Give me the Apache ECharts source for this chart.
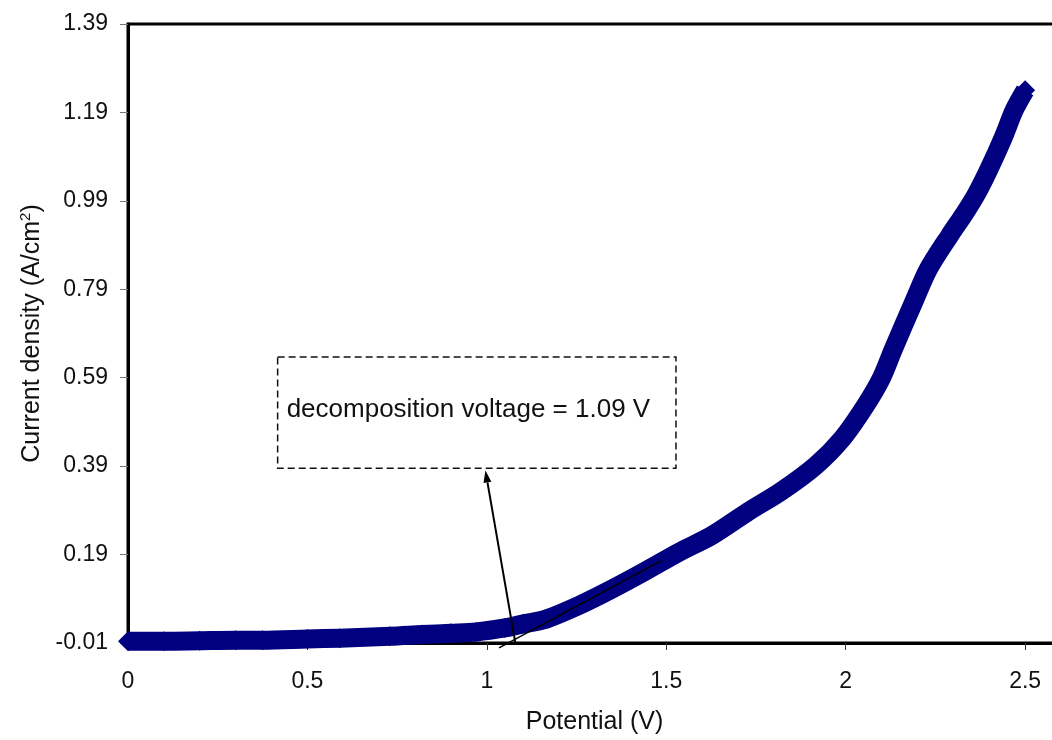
<!DOCTYPE html>
<html>
<head>
<meta charset="utf-8">
<script src="https://cdn.jsdelivr.net/npm/echarts@6/dist/echarts.min.js"></script>
<style>
  html, body { margin: 0; padding: 0; background: #fff; overflow: hidden; }
  /* plot runs a little past the right edge, like the source picture */
  #main { width: 1064px; height: 740px; }
</style>
</head>
<body>
<div id="main"></div>
<script>
// potential (V) and current density (A/cm2)
const potential = [0, 0.1, 0.2, 0.3, 0.375, 0.5, 0.59, 0.73, 0.82, 0.9, 0.97, 1.05, 1.1, 1.165,
  1.257, 1.349, 1.443, 1.535, 1.627, 1.73, 1.82, 1.916, 1.99, 2.055, 2.1, 2.133, 2.19, 2.23,
  2.29, 2.33, 2.364, 2.4, 2.44, 2.47, 2.5];
const current = [-0.006, -0.006, -0.005, -0.004, -0.004, -0.001, 0.001, 0.005, 0.009, 0.012, 0.015,
  0.024, 0.033, 0.044, 0.075, 0.112, 0.153, 0.195, 0.233, 0.288, 0.333, 0.391, 0.452, 0.527,
  0.59, 0.655, 0.762, 0.835, 0.912, 0.96, 1.005, 1.063, 1.135, 1.196, 1.24];
const xTicks = [0, 0.5, 1, 1.5, 2, 2.5];
const yTicks = [-0.01, 0.19, 0.39, 0.59, 0.79, 0.99, 1.19, 1.39];
// tangent line and arrow used for the onset estimate
const tangent = [[1.034, -0.021], [1.488, 0.177]];
const arrow = [[1.079, -0.008], [0.996, 0.38]];
const noteBox = [[0.417, 0.637], [1.527, 0.385]];
const noteText = 'decomposition voltage = 1.09 V';

const font = 'Liberation Sans, Arial, sans-serif';
const chart = echarts.init(document.getElementById('main'));

chart.setOption({
  animation: false,
  textStyle: { fontFamily: font },
  grid: {
    left: 128, top: 24, bottom: 95, right: 0,
    show: true, borderColor: '#000', borderWidth: 3, backgroundColor: '#fff'
  },
  xAxis: {
    type: 'value',
    min: 0, max: 2.6, interval: 0.5,
    name: 'Potential (V)',
    nameLocation: 'middle', nameGap: 67,
    nameTextStyle: { fontSize: 25, color: '#111', fontFamily: font },
    axisLine: { show: true, onZero: false, lineStyle: { color: '#000', width: 3 } },
    axisTick: { show: true, length: 7, lineStyle: { color: '#333', width: 1 } },
    axisLabel: {
      fontSize: 23, color: '#111', margin: 27,
      formatter: v => xTicks.some(t => Math.abs(t - v) < 1e-6) ? String(+v.toFixed(2)) : ''
    },
    splitLine: { show: false }
  },
  yAxis: {
    type: 'value',
    min: yTicks[0], max: yTicks[yTicks.length - 1], interval: 0.2,
    name: '{a|Current density (A/cm}{s|2}{a|)}',
    nameLocation: 'middle', nameGap: 79, nameRotate: 90,
    nameTextStyle: {
      rich: {
        a: { fontSize: 25, color: '#111', fontFamily: font },
        s: { fontSize: 15, color: '#111', fontFamily: font, verticalAlign: 'top', padding: [0, 0, 12, 0] }
      }
    },
    axisLine: { show: true, onZero: false, lineStyle: { color: '#000', width: 3 } },
    axisTick: { show: true, length: 8, lineStyle: { color: '#777', width: 1 } },
    axisLabel: {
      fontSize: 23, color: '#111', margin: 20,
      formatter: v => v.toFixed(2)
    },
    splitLine: { show: false }
  },
  series: [{
    type: 'line',
    data: potential.map((v, i) => [v, current[i]]),
    smooth: 0.3,
    showSymbol: true,
    showAllSymbol: true,
    symbol: 'diamond',
    symbolSize: 20,
    itemStyle: { color: '#000080' },
    lineStyle: { color: '#000080', width: 19, join: 'round' },
    clip: false,
    z: 2
  }]
});

// annotation: tangent, arrow and dashed note box, placed via the axes
const px = p => chart.convertToPixel({ gridIndex: 0 }, p);
const t0 = px(tangent[0]), t1 = px(tangent[1]);
const a0 = px(arrow[0]), a1 = px(arrow[1]);
const b0 = px(noteBox[0]), b1 = px(noteBox[1]);
const ang = Math.atan2(a1[1] - a0[1], a1[0] - a0[0]);
const headLen = 12, headW = 4;
const hx = a1[0] - headLen * Math.cos(ang), hy = a1[1] - headLen * Math.sin(ang);
const nx = -Math.sin(ang) * headW, ny = Math.cos(ang) * headW;

chart.setOption({
  graphic: [
    { type: 'line', z: 10, shape: { x1: t0[0], y1: t0[1], x2: t1[0], y2: t1[1] },
      style: { stroke: '#000', lineWidth: 1.5 } },
    { type: 'line', z: 10, shape: { x1: a0[0], y1: a0[1], x2: hx, y2: hy },
      style: { stroke: '#000', lineWidth: 2 } },
    { type: 'polygon', z: 10,
      shape: { points: [[a1[0], a1[1]], [hx + nx, hy + ny], [hx - nx, hy - ny]] },
      style: { fill: '#000' } },
    { type: 'rect', z: 10,
      shape: { x: b0[0], y: b0[1], width: b1[0] - b0[0], height: b1[1] - b0[1] },
      style: { fill: '#fff', stroke: '#111', lineWidth: 1.5, lineDash: [7, 4] } },
    { type: 'text', z: 11, x: b0[0] + 9, y: (b0[1] + b1[1]) / 2 - 3,
      style: { text: noteText, fontSize: 26, fontFamily: font, fill: '#111',
        verticalAlign: 'middle', align: 'left' } }
  ]
});
</script>
</body>
</html>
